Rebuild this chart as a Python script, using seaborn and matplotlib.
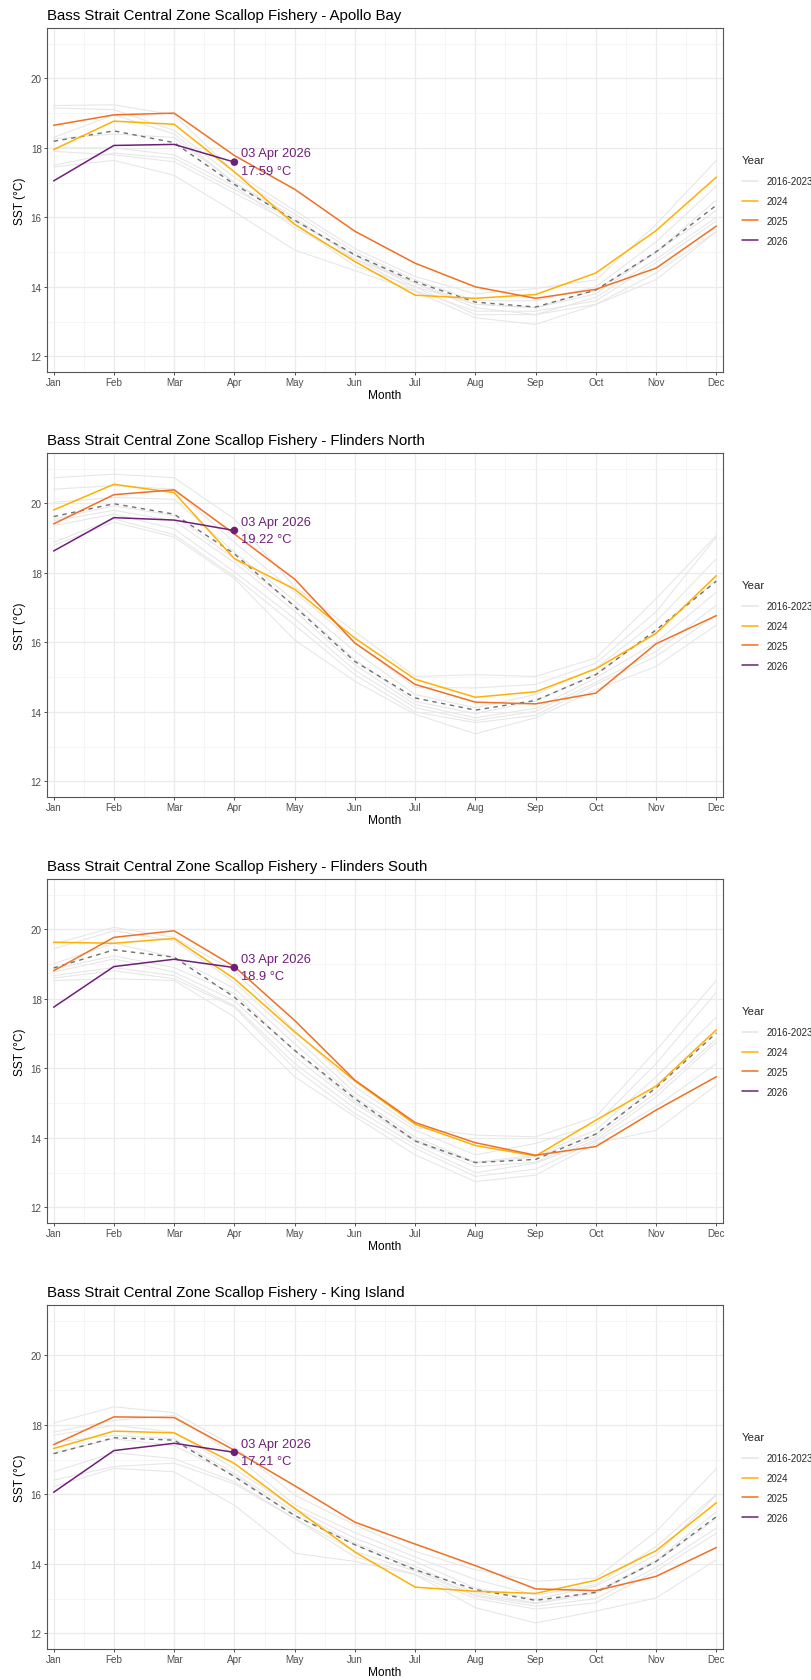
import matplotlib
matplotlib.use("Agg")
import matplotlib.pyplot as plt
import matplotlib.font_manager as fm
import seaborn as sns
import pandas as pd
from matplotlib.lines import Line2D
from matplotlib.ticker import FixedLocator

# ---------------- data ----------------
month_labels = ["Jan", "Feb", "Mar", "Apr", "May", "Jun",
                "Jul", "Aug", "Sep", "Oct", "Nov", "Dec"]
month_num = list(range(1, 13))
hist_years = [2016, 2017, 2018, 2019, 2020, 2021, 2022, 2023]
region_names = ["Apollo Bay", "Flinders North", "Flinders South", "King Island"]
last_date_label = "03 Apr 2026"

# historical (2016-2023): one row per month, 8 values (one per year)
apollo_hist = [
    [19.22, 19.15, 18.30, 18.26, 18.00, 17.90, 17.50, 17.45],
    [19.24, 19.10, 18.95, 18.40, 18.00, 17.80, 17.85, 17.64],
    [18.95, 18.50, 18.40, 18.30, 17.80, 17.60, 17.70, 17.21],
    [17.30, 17.15, 17.00, 17.00, 16.90, 16.70, 16.80, 16.16],
    [16.20, 16.10, 15.90, 16.00, 15.70, 15.80, 15.90, 15.06],
    [15.10, 15.00, 14.90, 14.80, 14.80, 14.60, 14.90, 14.47],
    [14.30, 14.20, 14.00, 14.10, 13.90, 14.00, 14.10, 13.87],
    [13.80, 13.60, 13.50, 13.40, 13.30, 13.20, 13.50, 13.11],
    [13.95, 13.60, 13.40, 13.20, 13.30, 13.20, 13.40, 12.92],
    [14.20, 14.00, 13.80, 13.70, 13.60, 13.50, 13.90, 13.49],
    [15.80, 15.30, 15.00, 14.80, 14.70, 14.40, 15.00, 14.21],
    [17.64, 16.90, 16.50, 16.00, 15.90, 15.60, 16.20, 15.59],
]
apollo_2024 = [17.95, 18.77, 18.68, 17.31, 15.80, 14.73, 13.76, 13.67, 13.78, 14.40, 15.62, 17.16]
apollo_2025 = [18.65, 18.95, 19.00, 17.78, 16.81, 15.60, 14.68, 14.00, 13.67, 13.93, 14.54, 15.75]
apollo_2026 = [17.05, 18.07, 18.10, 17.59]
apollo_mean = [18.19, 18.49, 18.15, 16.95, 15.92, 14.92, 14.15, 13.56, 13.42, 13.91, 15.01, 16.35]

fn_hist = [
    [20.74, 20.41, 20.03, 19.55, 19.50, 19.36, 18.88, 18.79],
    [20.84, 20.51, 20.17, 19.93, 19.80, 19.69, 19.55, 19.46],
    [20.74, 20.41, 20.12, 19.65, 19.50, 19.27, 19.10, 19.03],
    [19.55, 18.88, 18.60, 18.41, 18.30, 18.03, 17.90, 17.84],
    [17.60, 17.45, 17.20, 17.07, 16.90, 16.69, 16.50, 16.07],
    [16.31, 16.00, 15.74, 15.50, 15.36, 15.20, 15.07, 14.88],
    [15.02, 14.70, 14.50, 14.30, 14.21, 14.12, 14.00, 13.93],
    [15.07, 14.69, 14.12, 13.95, 13.83, 13.75, 13.69, 13.37],
    [15.02, 14.79, 14.50, 14.31, 14.10, 14.02, 13.90, 13.83],
    [15.55, 15.40, 15.26, 15.10, 14.98, 14.85, 14.79, 14.64],
    [17.26, 16.88, 16.60, 16.30, 16.00, 15.74, 15.60, 15.31],
    [19.08, 19.03, 18.41, 17.80, 17.45, 17.07, 16.79, 16.50],
]
fn_2024 = [19.81, 20.55, 20.31, 18.41, 17.53, 16.12, 14.94, 14.42, 14.58, 15.24, 16.26, 17.92]
fn_2025 = [19.41, 20.25, 20.39, 19.12, 17.82, 15.98, 14.79, 14.28, 14.23, 14.54, 15.96, 16.77]
fn_2026 = [18.63, 19.59, 19.52, 19.22]
fn_mean = [19.62, 19.99, 19.69, 18.55, 17.03, 15.45, 14.40, 14.05, 14.33, 15.07, 16.36, 17.76]

fs_hist = [
    [19.58, 19.44, 19.01, 18.86, 18.77, 18.67, 18.60, 18.53],
    [20.06, 19.96, 19.60, 19.24, 19.15, 18.90, 18.81, 18.58],
    [19.77, 19.67, 19.20, 18.90, 18.77, 18.67, 18.58, 18.53],
    [18.81, 18.48, 18.30, 18.15, 17.95, 17.80, 17.76, 17.48],
    [17.09, 16.90, 16.71, 16.50, 16.33, 16.14, 16.00, 15.76],
    [15.47, 15.30, 15.18, 15.05, 14.99, 14.85, 14.70, 14.61],
    [14.30, 14.22, 14.03, 13.95, 13.90, 13.80, 13.70, 13.51],
    [14.08, 13.51, 13.30, 13.27, 13.17, 13.00, 12.89, 12.74],
    [14.03, 13.84, 13.50, 13.46, 13.30, 13.27, 13.10, 12.93],
    [14.61, 14.40, 14.22, 14.10, 14.03, 13.94, 13.90, 13.84],
    [16.52, 16.14, 15.76, 15.50, 15.30, 15.18, 14.90, 14.22],
    [18.53, 18.19, 17.48, 17.10, 16.85, 16.76, 16.14, 15.52],
]
fs_2024 = [19.63, 19.60, 19.74, 18.58, 17.05, 15.64, 14.39, 13.78, 13.48, 14.51, 15.49, 17.11]
fs_2025 = [18.81, 19.77, 19.96, 18.93, 17.38, 15.66, 14.44, 13.86, 13.50, 13.75, 14.80, 15.76]
fs_2026 = [17.76, 18.93, 19.14, 18.90]
fs_mean = [18.89, 19.41, 19.20, 18.05, 16.52, 15.13, 13.91, 13.29, 13.38, 14.11, 15.44, 17.02]

ki_hist = [
    [18.05, 17.79, 17.70, 17.50, 17.20, 16.65, 16.41, 16.22],
    [18.52, 18.13, 17.99, 17.70, 17.60, 17.20, 16.80, 16.75],
    [18.35, 18.27, 17.79, 17.60, 17.40, 17.03, 16.90, 16.65],
    [17.37, 17.13, 16.74, 16.60, 16.55, 16.36, 16.30, 15.69],
    [15.98, 15.70, 15.60, 15.50, 15.40, 15.31, 15.30, 14.31],
    [15.12, 14.90, 14.74, 14.60, 14.55, 14.36, 14.20, 14.07],
    [14.36, 14.20, 14.07, 13.93, 13.85, 13.79, 13.70, 13.69],
    [13.83, 13.55, 13.30, 13.16, 13.10, 13.07, 13.00, 12.74],
    [13.50, 13.10, 12.98, 12.88, 12.85, 12.78, 12.70, 12.30],
    [13.59, 13.40, 13.36, 13.20, 13.16, 13.00, 12.88, 12.64],
    [14.93, 14.50, 14.26, 14.10, 14.07, 13.90, 13.79, 13.02],
    [16.74, 16.00, 15.98, 15.50, 15.30, 15.03, 14.88, 14.12],
]
ki_2024 = [17.32, 17.82, 17.77, 16.89, 15.60, 14.34, 13.33, 13.21, 13.15, 13.53, 14.38, 15.76]
ki_2025 = [17.43, 18.23, 18.21, 17.27, 16.25, 15.20, 14.57, 13.95, 13.28, 13.23, 13.64, 14.47]
ki_2026 = [16.06, 17.26, 17.47, 17.21]
ki_mean = [17.17, 17.63, 17.56, 16.51, 15.39, 14.55, 13.83, 13.26, 12.95, 13.18, 14.07, 15.36]

legend_labels = ["2016-2023", "2024", "2025", "2026"]

# ---------------- style ----------------
col_hist = "#E6E6E6"
col_2024 = "#FFB000"
col_2025 = "#F07022"
col_2026 = "#6E1F78"
col_mean = "#707070"
palette = {"2024": col_2024, "2025": col_2025, "2026": col_2026}

sns.set_style("white")
fm.fontManager.ttflist = [f for f in fm.fontManager.ttflist
                          if "narrow" not in f.fname.lower()]
try:
    fm.fontManager._findfont_cached.cache_clear()
except Exception:
    pass
plt.rcParams["font.family"] = ["Liberation Sans", "DejaVu Sans"]

W, H = 812, 1681
fig = plt.figure(figsize=(W / 100, H / 100), dpi=100)

panels = [
    (apollo_hist, apollo_2024, apollo_2025, apollo_2026, apollo_mean),
    (fn_hist, fn_2024, fn_2025, fn_2026, fn_mean),
    (fs_hist, fs_2024, fs_2025, fs_2026, fs_mean),
    (ki_hist, ki_2024, ki_2025, ki_2026, ki_mean),
]
tops = [29, 454, 880, 1306]
ax_left, ax_w, ax_h = 47, 676, 344

for i, (name, (hist, y24, y25, y26, ymean)) in enumerate(zip(region_names, panels)):
    top = tops[i]
    ax = fig.add_axes([ax_left / W, 1 - (top + ax_h) / H, ax_w / W, ax_h / H])

    hist_rows = []
    for m, vals in zip(month_num, hist):
        for yr, v in zip(hist_years, vals):
            hist_rows.append({"month": m, "sst": v, "year": yr})
    df_hist = pd.DataFrame(hist_rows)

    df_mean = pd.DataFrame({"month": month_num, "sst": ymean})
    df_years = pd.concat([
        pd.DataFrame({"month": month_num[:len(y24)], "sst": y24, "Year": "2024"}),
        pd.DataFrame({"month": month_num[:len(y25)], "sst": y25, "Year": "2025"}),
        pd.DataFrame({"month": month_num[:len(y26)], "sst": y26, "Year": "2026"}),
    ], ignore_index=True)

    sns.lineplot(data=df_hist, x="month", y="sst", units="year", estimator=None,
                 color=col_hist, lw=0.75, ax=ax, legend=False, zorder=2)
    sns.lineplot(data=df_mean, x="month", y="sst", color=col_mean, lw=1.0,
                 linestyle=(0, (3.2, 3.2)), ax=ax, legend=False, zorder=3)
    sns.lineplot(data=df_years, x="month", y="sst", hue="Year", palette=palette,
                 lw=1.1, ax=ax, legend=False, zorder=4, sort=False)
    last_m = month_num[len(y26) - 1]
    last_v = y26[-1]
    sns.scatterplot(x=[last_m], y=[last_v], color=col_2026, s=30, edgecolor="none",
                    ax=ax, legend=False, zorder=5)
    ax.annotate(f"{last_date_label}\n{last_v:g} °C", xy=(last_m, last_v),
                xytext=(5, 0), textcoords="offset points", ha="left", va="center",
                color=col_2026, fontsize=9.3, linespacing=1.62, zorder=6)

    ax.set_xlim(1 - 0.11, 12 + 0.11)
    ax.set_ylim(11.55, 21.45)
    ax.xaxis.set_major_locator(FixedLocator(month_num))
    ax.set_xticklabels(month_labels)
    ax.xaxis.set_minor_locator(FixedLocator([m + 0.5 for m in month_num[:-1]]))
    ax.yaxis.set_major_locator(FixedLocator([12, 14, 16, 18, 20]))
    ax.yaxis.set_minor_locator(FixedLocator([13, 15, 17, 19, 21]))
    ax.set_axisbelow(True)
    ax.grid(which="major", color="#EBEBEB", lw=0.9)
    ax.grid(which="minor", color="#F2F2F2", lw=0.5)
    ax.tick_params(which="major", axis="both", length=2.2, width=0.6, color="#333333",
                   labelsize=7.1, labelcolor="#4D4D4D", pad=1.6,
                   bottom=True, left=True)
    ax.tick_params(which="minor", length=0)
    for sp in ax.spines.values():
        sp.set_color("#555555")
        sp.set_linewidth(0.8)
    ax.set_xlabel("Month", fontsize=8.6, labelpad=1.5, color="black")
    ax.set_ylabel("SST (°C)", fontsize=8.6, labelpad=3.5, color="black")
    ax.set_title(f"Bass Strait Central Zone Scallop Fishery - {name}", loc="left",
                 fontsize=10.8, pad=6.5, color="black")

    handles = [Line2D([], [], color=c, lw=1.1) for c in [col_hist, col_2024, col_2025, col_2026]]
    ax.legend(handles, legend_labels, title="Year", loc="upper left",
              bbox_to_anchor=(742 / W, 1 - (top + 127) / H),
              bbox_transform=fig.transFigure, frameon=False, fontsize=7.0,
              title_fontsize=8.2, handlelength=1.64, handletextpad=0.86,
              labelspacing=1.0, borderpad=0, borderaxespad=0, alignment="left")
    leg = ax.get_legend()
    leg._legend_box.sep = 8.2

fig.savefig("out.png", dpi=100)
